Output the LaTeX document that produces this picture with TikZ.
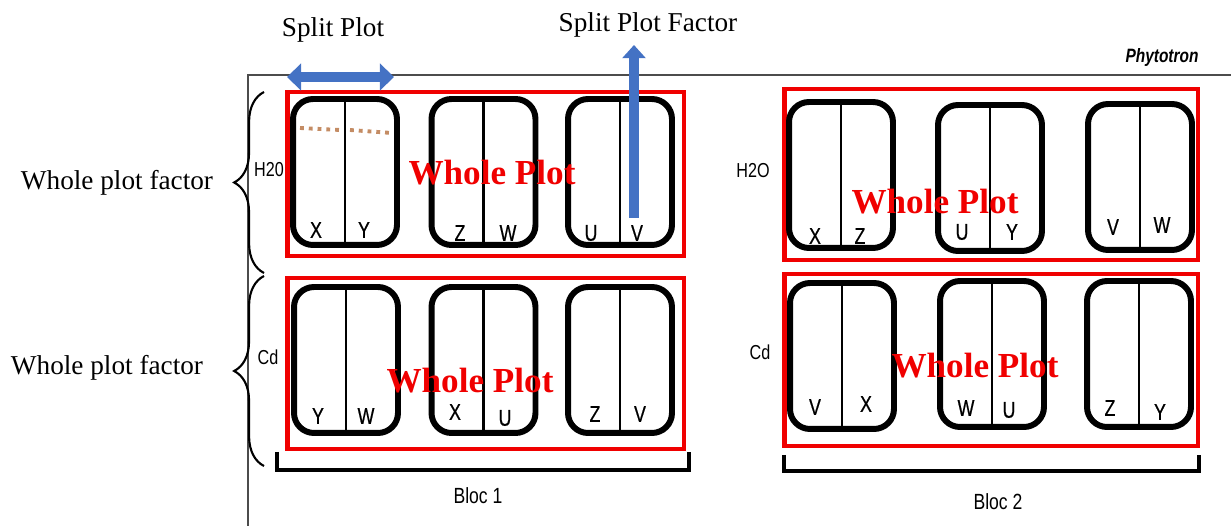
\documentclass[tikz,border=0pt]{standalone}
\usepackage{fontspec}
\setmainfont{Liberation Serif}
\newfontfamily\narrowsans[FakeStretch=0.8]{Liberation Sans}
\newfontfamily\lettersans[FakeStretch=0.78,FakeBold=0.6]{Liberation Sans}
\usetikzlibrary{arrows.meta,decorations.pathreplacing}
\definecolor{plotred}{RGB}{240,0,0}
\definecolor{arrowblue}{RGB}{68,114,196}
\definecolor{dotbrown}{RGB}{196,140,100}
\tikzset{
    plotbox/.style={draw, line width=3.4pt, rounded corners=0.4cm, minimum width=2.08cm, minimum height=2.92cm, inner sep=0pt},
    wholebox/.style={draw=plotred, line width=2.8pt, inner sep=0pt},
    subplot/.style={font=\lettersans\fontsize{13}{13}\selectfont},
    factor/.style={font=\fontsize{15.5}{16}\selectfont},
    wholetext/.style={text=plotred, font=\bfseries\fontsize{20}{20}\selectfont},
    tag/.style={font=\narrowsans\fontsize{11.5}{11.5}\selectfont},
    blockarrow/.style={arrowblue, line width=5.6pt},
}

\begin{document}
\begin{tikzpicture}[x=0.02cm, y=-0.02cm]
        \useasboundingbox (0,0) rectangle (1231,526);

        \coordinate (frametl) at (248,75);
        \coordinate (frametr) at (1231,75);
        \coordinate (framebl) at (248,526);
        \draw[line width=1pt, black!70] (frametr) -- (frametl) -- (framebl);
        \node[font=\narrowsans\bfseries\itshape\fontsize{11}{11}\selectfont] (phyto) at (1162,58) {Phytotron};

        \node[wholebox, minimum width=7.94cm, minimum height=3.28cm] (wp1) at (485.5,174) {};
        \node[wholebox, minimum width=7.94cm, minimum height=3.42cm] (wp2) at (485.5,363.5) {};
        \node[wholebox, minimum width=8.28cm, minimum height=3.42cm] (wp3) at (991,174.5) {};
        \node[wholebox, minimum width=8.28cm, minimum height=3.44cm] (wp4) at (991,360) {};

        \node[plotbox] (a1) at (345,172) {};
        \node[plotbox] (a2) at (483.5,172) {};
        \node[plotbox] (a3) at (620,172) {};
        \node[plotbox] (c1) at (346,360) {};
        \node[plotbox] (c2) at (483.5,360) {};
        \node[plotbox] (c3) at (620,360) {};
        \node[plotbox] (b1) at (841,175) {};
        \node[plotbox] (b2) at (990,178) {};
        \node[plotbox] (b3) at (1140,177) {};
        \node[plotbox] (d1) at (842,356) {};
        \node[plotbox] (d2) at (992,354) {};
        \node[plotbox] (d3) at (1139,354) {};

        \draw[line width=1.2pt] (a1.north) -- (a1.south);
        \draw[line width=1.2pt] (a2.north) -- (a2.south);
        \draw[line width=1.2pt] (a3.north) -- (a3.south);
        \draw[line width=1.2pt] (c1.north) -- (c1.south);
        \draw[line width=1.2pt] (c2.north) -- (c2.south);
        \draw[line width=1.2pt] (c3.north) -- (c3.south);
        \draw[line width=1.2pt] (b1.north) -- (b1.south);
        \draw[line width=1.2pt] (b2.north) -- (b2.south);
        \draw[line width=1.2pt] (b3.north) -- (b3.south);
        \draw[line width=1.2pt] (d1.north) -- (d1.south);
        \draw[line width=1.2pt] (d2.north) -- (d2.south);
        \draw[line width=1.2pt] (d3.north) -- (d3.south);

        \draw[dotbrown, line width=2.2pt, dash pattern=on 2.2pt off 2.8pt] (300,128) -- (340,130);
        \draw[dotbrown, line width=2.2pt, dash pattern=on 2.2pt off 2.8pt] (350,130) -- (392,133);

        \node[subplot] (a1l) at (316,230) {X};
        \node[subplot] (a1r) at (364,230) {Y};
        \node[subplot] (a2l) at (460,233) {Z};
        \node[subplot] (a2r) at (508,233) {W};
        \node[subplot] (a3l) at (591,233) {U};
        \node[subplot] (a3r) at (637,233) {V};
        \node[subplot] (c1l) at (318,416) {Y};
        \node[subplot] (c1r) at (366,416) {W};
        \node[subplot] (c2l) at (455,412) {X};
        \node[subplot] (c2r) at (505,418) {U};
        \node[subplot] (c3l) at (595,414) {Z};
        \node[subplot] (c3r) at (640,414) {V};
        \node[subplot] (b1l) at (815,236) {X};
        \node[subplot] (b1r) at (860,236) {Z};
        \node[subplot] (b2l) at (962,232) {U};
        \node[subplot] (b2r) at (1012,232) {Y};
        \node[subplot] (b3l) at (1113,227) {V};
        \node[subplot] (b3r) at (1162,225) {W};
        \node[subplot] (d1l) at (815,407) {V};
        \node[subplot] (d1r) at (866,404) {X};
        \node[subplot] (d2l) at (966,408) {W};
        \node[subplot] (d2r) at (1009,410) {U};
        \node[subplot] (d3l) at (1110,408) {Z};
        \node[subplot] (d3r) at (1160,412) {Y};

        \node[tag] (h1) at (269,170) {H20};
        \node[tag] (h2) at (753,171) {H2O};
        \node[tag] (cd1) at (268,357) {Cd};
        \node[tag] (cd2) at (760,352) {Cd};

        \coordinate (br1a) at (277,452);
        \coordinate (br1b) at (689,452);
        \coordinate (br2a) at (784,455);
        \coordinate (br2b) at (1199,455);
        \draw[line width=1.8pt] (br1a) -- ++(0,18) -| (br1b);
        \draw[line width=1.8pt] (br2a) -- ++(0,16) -| (br2b);
        \node[tag, font=\narrowsans\fontsize{12.5}{12.5}\selectfont] (bloc1) at (478,496) {Bloc 1};
        \node[tag, font=\narrowsans\fontsize{12.5}{12.5}\selectfont] (bloc2) at (998,502) {Bloc 2};

        \coordinate (brace1a) at (264,273);
        \coordinate (brace1b) at (264,92);
        \coordinate (brace2a) at (264,466);
        \coordinate (brace2b) at (264,276);
        \draw[decorate, decoration={brace, amplitude=17pt}, line width=1.2pt] (brace1a) -- (brace1b);
        \draw[decorate, decoration={brace, amplitude=17pt}, line width=1.2pt] (brace2a) -- (brace2b);
        \node[factor] (wpf1) at (117,183) {Whole plot factor};
        \node[factor] (wpf2) at (107,368) {Whole plot factor};

        \coordinate (spl) at (287,77);
        \coordinate (spr) at (394,77);
        \coordinate (spfbase) at (634,218);
        \coordinate (spftip) at (634,45);
        \draw[blockarrow, {Triangle[length=8pt,width=15pt]}-{Triangle[length=8pt,width=15pt]}] (spl) -- (spr);
        \draw[blockarrow, -{Triangle[length=7.5pt,width=13pt]}] (spfbase) -- (spftip);
        \node[factor] (sp) at (333,30) {Split Plot};
        \node[factor] (spf) at (648,25) {Split Plot Factor};

        \node[wholetext] (wt1) at (492,173) {Whole Plot};
        \node[wholetext] (wt2) at (470,381) {Whole Plot};
        \node[wholetext] (wt3) at (935,202) {Whole Plot};
        \node[wholetext] (wt4) at (975,366) {Whole Plot};
    \end{tikzpicture}
\end{document}
